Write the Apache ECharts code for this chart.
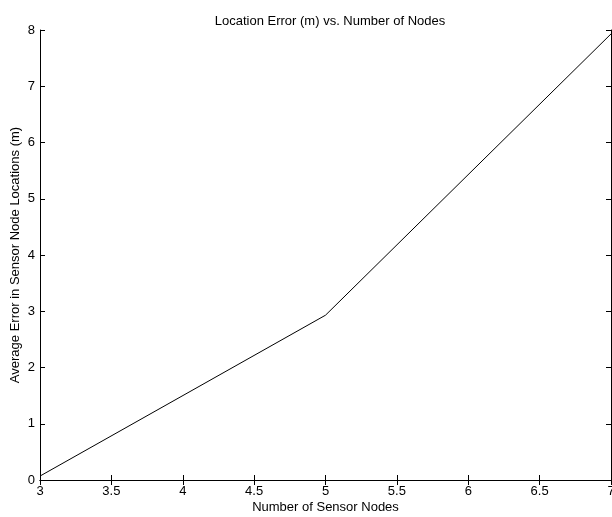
<!DOCTYPE html>
<html>
<head>
<meta charset="utf-8">
<script src="https://cdn.jsdelivr.net/npm/echarts@6/dist/echarts.min.js"></script>
<style>
  html, body { margin: 0; padding: 0; background: #fff; }
  #main { width: 612px; height: 517px; }
</style>
</head>
<body>
<div id="main"></div>
<script>
// data
const nodes = [3, 5, 7];
const avgError = [0.07, 2.93, 7.93];

const font = 'Liberation Sans, Arial, sans-serif';
const chart = echarts.init(document.getElementById('main'));

const boxAxis = {
  axisLine: { show: true, lineStyle: { color: '#000', width: 1 } },
  axisTick: { show: true, inside: true, length: 5, lineStyle: { color: '#000' } },
  splitLine: { show: false }
};
const labelStyle = { fontFamily: font, fontSize: 13, color: '#000' };

chart.setOption({
  animation: false,
  title: {
    text: 'Location Error (m) vs. Number of Nodes',
    left: 325,
    top: 10,
    textAlign: 'center',
    textStyle: { fontFamily: font, fontSize: 13, fontWeight: 'normal', color: '#000' }
  },
  grid: { left: 40, right: 1, top: 30, bottom: 37, outerBoundsMode: 'none', containLabel: false },
  xAxis: [
    Object.assign({
      type: 'value', min: 3, max: 7, interval: 0.5, position: 'bottom',
      name: 'Number of Sensor Nodes', nameLocation: 'middle', nameGap: 21,
      nameMoveOverlap: false,
      nameTextStyle: labelStyle,
      axisLabel: Object.assign({ margin: 5 }, labelStyle)
    }, boxAxis),
    Object.assign({
      type: 'value', min: 3, max: 7, interval: 0.5, position: 'top',
      axisLabel: { show: false }
    }, boxAxis)
  ],
  yAxis: [
    Object.assign({
      type: 'value', min: 0, max: 8, interval: 1, position: 'left',
      name: 'Average Error in Sensor Node Locations (m)', nameLocation: 'middle', nameGap: 18,
      nameMoveOverlap: false,
      nameTextStyle: labelStyle,
      axisLabel: Object.assign({ margin: 5 }, labelStyle)
    }, boxAxis),
    Object.assign({
      type: 'value', min: 0, max: 8, interval: 1, position: 'right',
      axisLabel: { show: false }
    }, boxAxis)
  ],
  series: [{
    type: 'line',
    data: nodes.map((n, i) => [n, avgError[i]]),
    symbol: 'none',
    lineStyle: { color: '#000', width: 1 }
  }]
});
</script>
</body>
</html>
